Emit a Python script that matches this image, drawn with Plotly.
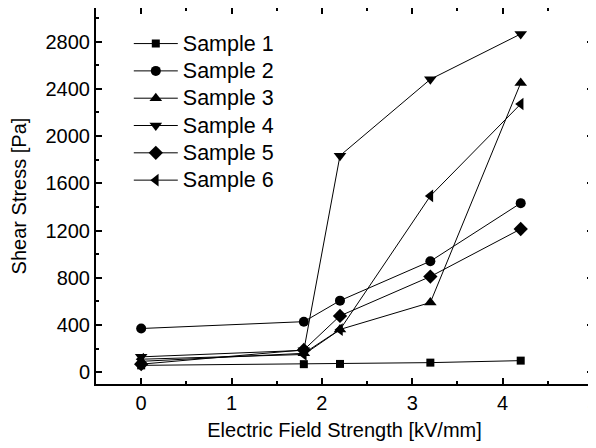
import plotly.graph_objects as go

field = [0, 1.8, 2.2, 3.2, 4.2]
sample1 = [58, 68, 70, 81, 98]
sample2 = [370, 428, 606, 940, 1432]
sample3 = [92, 160, 362, 590, 2450]
sample4 = [130, 185, 1834, 2481, 2865]
sample5 = [68, 189, 477, 810, 1213]
sample6 = [110, 150, 360, 1493, 2272]

names = ["Sample 1", "Sample 2", "Sample 3", "Sample 4", "Sample 5", "Sample 6"]
series = [sample1, sample2, sample3, sample4, sample5, sample6]
symbols = ["square", "circle", "triangle-up", "triangle-down", "diamond", "triangle-left"]
sizes = [8, 10, 11, 11, 11, 11]

FONT = "Liberation Sans, Arial, Helvetica, sans-serif"

fig = go.Figure()
for n, s, sym, sz in zip(names, series, symbols, sizes):
    fig.add_trace(go.Scatter(
        x=field, y=s, name=f"<span style='font-size:21.5px'>{n}</span>",
        mode="lines+markers",
        line=dict(color="black", width=1),
        marker=dict(symbol=sym, size=sz, color="black"),
    ))

axis_common = dict(
    showline=True, linecolor="black", linewidth=2, mirror="ticks",
    ticks="inside", ticklen=6, tickwidth=1.5, tickcolor="black",
    showgrid=False, zeroline=False, automargin=False, ticklabeloverflow="allow",
    tickfont=dict(family=FONT, size=20, color="black"),
    title_font=dict(family=FONT, size=20, color="black"),
)

fig.update_xaxes(range=[-0.5, 5], tickvals=[0, 1, 2, 3, 4, 5],
                 minor=dict(ticks="inside", ticklen=3, tickcolor="black", tickwidth=1.5, dtick=0.5, tick0=0),
                 title_text="Electric Field Strength [kV/mm]", title_standoff=10, **axis_common)
fig.update_yaxes(range=[-100, 3085], tickvals=[0, 400, 800, 1200, 1600, 2000, 2400, 2800],
                 minor=dict(ticks="inside", ticklen=3, tickcolor="black", tickwidth=1.5, dtick=200, tick0=0),
                 title_text="Shear Stress [Pa]", title_standoff=14, **axis_common)

fig.update_layout(
    template="none",
    width=588, height=440,
    margin=dict(l=88, r=3, t=0, b=64, autoexpand=False),
    plot_bgcolor="white", paper_bgcolor="white",
    font=dict(family=FONT, size=20, color="black"),
    legend=dict(x=0.066, y=0.955, xanchor="left", yanchor="top",
                bgcolor="rgba(0,0,0,0)", font=dict(family=FONT, size=18.7), itemwidth=44),
    showlegend=True,
)

fig.write_html("out.html")
